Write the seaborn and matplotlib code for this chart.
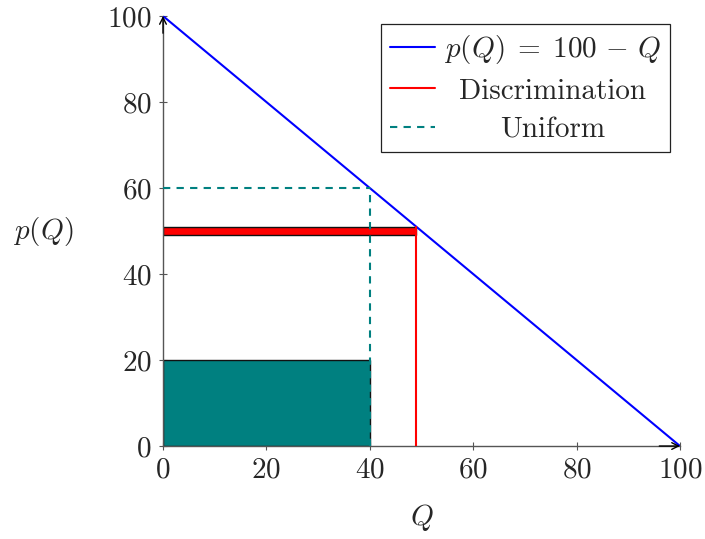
import matplotlib
matplotlib.use("Agg")
import matplotlib.pyplot as plt
import seaborn as sns
import pandas as pd

# demand curve p(Q) = 100 - Q
demand_q = [0, 100]
demand_p = [100, 0]

# discrimination: thin band at price 49-51 up to quantity 49
disc_q = 49
disc_p_low = 49
disc_p_high = 51

# uniform pricing: quantity 40, price 60, shaded block up to 20
unif_q = 40
unif_p = 60
unif_block = 20

ticks = [0, 20, 40, 60, 80, 100]

sns.set_style("white")
plt.rcParams['font.family'] = 'serif'
plt.rcParams['font.serif'] = ['cmr10']
plt.rcParams['mathtext.fontset'] = 'cm'
plt.rcParams['axes.formatter.use_mathtext'] = True
plt.rcParams['axes.unicode_minus'] = False

fig = plt.figure(figsize=(7.05, 5.39), dpi=100)
ax = fig.add_axes([0.2312, 0.1725, 0.7333, 0.7978])

teal = (0, 0.5, 0.5)
dash = (0, (3.5, 3))

# shaded blocks
ax.bar(0, unif_block, width=unif_q, align='edge', color=teal,
       edgecolor='#111111', linewidth=1.0, zorder=2)
ax.bar(0, disc_p_high - disc_p_low, width=disc_q, bottom=disc_p_low,
       align='edge', color='red', edgecolor='#111111', linewidth=1.0, zorder=2)

# demand line
df = pd.DataFrame({'Q': demand_q, 'p': demand_p})
sns.lineplot(data=df, x='Q', y='p', ax=ax, color='blue', linewidth=1.5,
             label=r'$p(Q) \;=\; 100 \,-\, Q$', zorder=3)

# discrimination line
ax.plot([disc_q, disc_q], [0, disc_p_high], color='red', linewidth=1.5,
        label='Discrimination', zorder=3)

# uniform dashed lines
ax.plot([0, unif_q], [unif_p, unif_p], color=teal, linestyle=dash,
        linewidth=1.5, zorder=3, label='Uniform')
ax.plot([unif_q, unif_q], [0, unif_p], color=teal, linestyle=dash,
        linewidth=1.5, zorder=3)

ax.set_xlim(0, 100)
ax.set_ylim(0, 100)
ax.set_xticks(ticks)
ax.set_yticks(ticks)
ax.tick_params(labelsize=21, direction='inout', length=6, width=0.8,
               color='#555555', left=True, bottom=True, pad=5)

for s in ['top', 'right']:
    ax.spines[s].set_visible(False)
for s in ['left', 'bottom']:
    ax.spines[s].set_color('#555555')
    ax.spines[s].set_linewidth(1.0)

# axis arrows
arrow = dict(arrowstyle='->', color='black', lw=1.0, shrinkA=0, shrinkB=0,
             mutation_scale=12)
ax.annotate('', xy=(1, 0), xytext=(0.96, 0), xycoords='axes fraction',
            arrowprops=arrow, zorder=4)
ax.annotate('', xy=(0, 1), xytext=(0, 0.96), xycoords='axes fraction',
            arrowprops=arrow, zorder=4)

ax.set_xlabel(r'$Q$', fontsize=21, labelpad=13)
ax.set_ylabel(r'$p(Q)$', fontsize=21, rotation=0, labelpad=46, va='center')

leg = ax.legend(loc='upper right', fontsize=21, frameon=True, fancybox=False,
                edgecolor='#222222', framealpha=1, handlelength=1.55,
                handletextpad=0.3, borderpad=0.3, labelspacing=0.42,
                borderaxespad=0, bbox_to_anchor=(0.981, 0.981))
leg.get_frame().set_linewidth(0.9)

# centre the legend texts like pgfplots does
fig.canvas.draw()
r = fig.canvas.get_renderer()
widths = [t.get_window_extent(r).width for t in leg.get_texts()]
wmax = max(widths)
for t, w in zip(leg.get_texts(), widths):
    t.set_position(((wmax - w) / 2, 0))

fig.savefig('out.png', dpi=100)
